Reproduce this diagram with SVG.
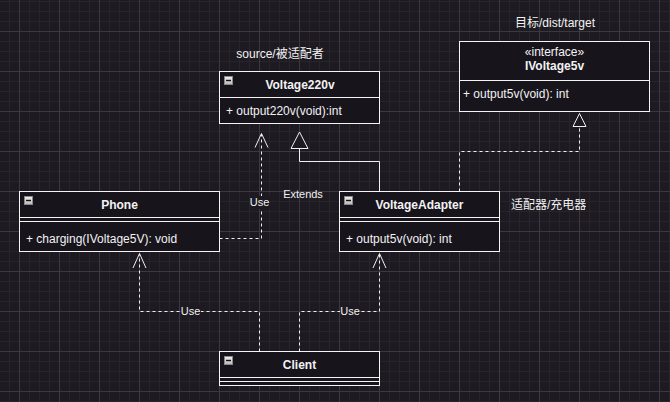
<svg xmlns="http://www.w3.org/2000/svg" width="670" height="402" viewBox="0 0 670 402">
  <defs>
    <pattern id="grid" x="19" y="31" width="40" height="40" patternUnits="userSpaceOnUse">
      <rect width="40" height="40" fill="#1d1a21"/>
      <rect x="10" y="0" width="1" height="40" fill="#27242b"/>
      <rect x="20" y="0" width="1" height="40" fill="#27242b"/>
      <rect x="30" y="0" width="1" height="40" fill="#27242b"/>
      <rect x="0" y="10" width="40" height="1" fill="#27242b"/>
      <rect x="0" y="20" width="40" height="1" fill="#27242b"/>
      <rect x="0" y="30" width="40" height="1" fill="#27242b"/>
      <rect x="0" y="0" width="1" height="40" fill="#3b3840"/>
      <rect x="0" y="0" width="40" height="1" fill="#3b3840"/>
    </pattern>
    <linearGradient id="btnGrad" x1="0" y1="0" x2="0" y2="1">
      <stop offset="0" stop-color="#f2f2f2"/>
      <stop offset="1" stop-color="#b8b8b8"/>
    </linearGradient>
    <!-- collapse button shown in each class header -->
    <g id="collapse">
      <rect x="0.5" y="0.5" width="8" height="8" fill="url(#btnGrad)" stroke="#8a8a8a" stroke-width="1"/>
      <line x1="2" y1="4.5" x2="7" y2="4.5" stroke="#111" stroke-width="1.4"/>
    </g>
  </defs>
  <style>
    .box { fill: #18141c; stroke: #f4f4f4; stroke-width: 1; }
    .sep { stroke: #f4f4f4; stroke-width: 1; fill: none; }
    text { font-family: "Liberation Sans", Arial, "Noto Sans CJK SC", sans-serif; fill: #f2f2f2; }
    .title { font-size: 12px; font-weight: bold; text-anchor: middle; }
    .member { font-size: 12px; }
    .note { font-size: 12px; text-anchor: middle; }
    .lbl { font-size: 11px; text-anchor: middle; }
    .edge { fill: none; stroke: #f0f0f0; stroke-width: 1; }
    .dash { stroke-dasharray: 3 3; }
    .head { fill: #1d1a21; stroke: #f0f0f0; stroke-width: 1; }
    .open { fill: none; stroke: #f0f0f0; stroke-width: 1; }
    .lblbg { fill: #1d1a21; }
  </style>

  <rect width="670" height="402" fill="url(#grid)"/>

  <!-- connectors -->
  <g id="connectors">
    <!-- Phone uses Voltage220v -->
    <path class="edge dash" d="M219.5,238.5 H261.5 V134"/>
    <polyline class="open" points="255,147.5 261.5,133.5 268,147.5"/>
    <rect class="lblbg" x="250" y="196" width="20" height="13"/>
    <text class="lbl" x="259.5" y="206">Use</text>

    <!-- VoltageAdapter extends Voltage220v -->
    <path class="edge" d="M379.5,191.5 V161.5 H299.5 V148.5"/>
    <polygon class="head" points="299.5,132 291,148.5 308,148.5"/>
    <text class="lbl" x="303" y="198">Extends</text>

    <!-- VoltageAdapter implements IVoltage5v -->
    <path class="edge dash" d="M459.5,191.5 V151.5 H579.5 V126.5"/>
    <polygon class="head" points="579.5,113.5 573,126.5 586,126.5"/>

    <!-- Client uses Phone -->
    <path class="edge dash" d="M259.5,351.5 V311.5 H139.5 V254"/>
    <polyline class="open" points="133,268 139.5,253.5 146,268"/>
    <rect class="lblbg" x="181" y="305" width="20" height="13"/>
    <text class="lbl" x="190.5" y="315">Use</text>

    <!-- Client uses VoltageAdapter -->
    <path class="edge dash" d="M299.5,351.5 V311.5 H379.5 V254"/>
    <polyline class="open" points="373,268 379.5,253.5 386,268"/>
    <rect class="lblbg" x="340" y="305" width="20" height="13"/>
    <text class="lbl" x="350" y="315">Use</text>
  </g>

  <!-- free-standing captions -->
  <text class="note" x="280" y="58">source/被适配者</text>
  <text class="note" x="555" y="27">目标/dist/target</text>
  <text class="member" x="511" y="209">适配器/充电器</text>

  <g id="voltage220v">
    <rect class="box" x="219.5" y="71.5" width="160" height="52"/>
    <line class="sep" x1="219.5" y1="97.5" x2="379.5" y2="97.5"/>
    <use href="#collapse" x="224" y="76"/>
    <text class="title" x="300" y="88.5">Voltage220v</text>
    <text class="member" x="226" y="114.5">+ output220v(void):int</text>
  </g>

  <g id="ivoltage5v">
    <rect class="box" x="459.5" y="41.5" width="190" height="70"/>
    <line class="sep" x1="459.5" y1="80.5" x2="649.5" y2="80.5"/>
    <text class="note" x="554.5" y="55.5" style="font-size:12px">«interface»</text>
    <text class="title" x="554.5" y="69.5">IVoltage5v</text>
    <text class="member" x="463" y="97.5">+ output5v(void): int</text>
  </g>

  <g id="phone">
    <rect class="box" x="19.5" y="191.5" width="200" height="60"/>
    <line class="sep" x1="19.5" y1="217.5" x2="219.5" y2="217.5"/>
    <line class="sep" x1="19.5" y1="221.5" x2="219.5" y2="221.5"/>
    <use href="#collapse" x="24" y="196"/>
    <text class="title" x="119.5" y="208.5">Phone</text>
    <text class="member" x="26" y="243">+ charging(IVoltage5V): void</text>
  </g>

  <g id="voltageAdapter">
    <rect class="box" x="339.5" y="191.5" width="160" height="60"/>
    <line class="sep" x1="339.5" y1="217.5" x2="499.5" y2="217.5"/>
    <line class="sep" x1="339.5" y1="221.5" x2="499.5" y2="221.5"/>
    <use href="#collapse" x="344" y="196"/>
    <text class="title" x="419.5" y="208.5">VoltageAdapter</text>
    <text class="member" x="346" y="243">+ output5v(void): int</text>
  </g>

  <g id="client">
    <rect class="box" x="219.5" y="351.5" width="160" height="34"/>
    <line class="sep" x1="219.5" y1="377.5" x2="379.5" y2="377.5"/>
    <line class="sep" x1="219.5" y1="381.5" x2="379.5" y2="381.5"/>
    <use href="#collapse" x="224" y="356"/>
    <text class="title" x="299.5" y="368.5">Client</text>
  </g>
</svg>
